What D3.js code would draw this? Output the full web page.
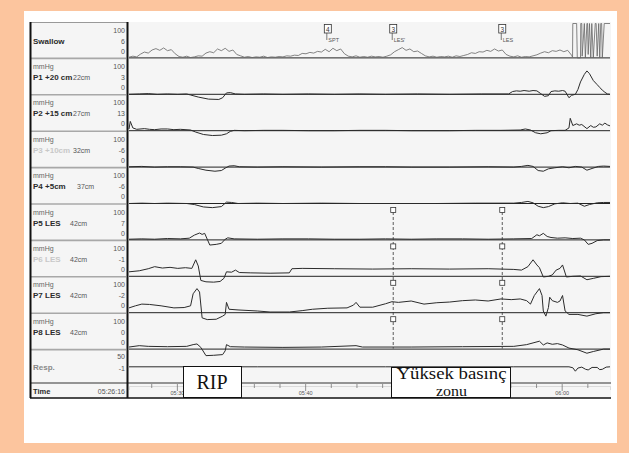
<!DOCTYPE html>
<html><head><meta charset="utf-8">
<script src="https://cdn.jsdelivr.net/npm/d3@7"></script>
<style>body{margin:0;background:#fcc59e;overflow:hidden}</style>
</head><body><svg id="c" width="629" height="453"></svg>
<script>
// ---------------- DATA ----------------
// time in minutes since 05:26:16, value in mmHg
const startTime = [5, 26, 16];
const rowNames   = ["Swallow", "P1 +20 cm", "P2 +15 cm", "P3 +10cm", "P4 +5cm", "P5 LES", "P6 LES", "P7 LES", "P8 LES"];
const rowDepths  = ["", "22cm", "27cm", "32cm", "37cm", "42cm", "42cm", "42cm", "42cm"];
const rowCurrent = ["6", "3", "13", "-6", "-6", "7", "-1", "-2", "0"];
const rowFaded   = [false, false, false, true, false, false, true, false, false];
const rowMax = "100", rowMin = "0";
const respLabels = ["50", "-1"];

const swallowTrace = [[0,2],[0.3,5],[0.6,3],[0.9,11],[1.2,17],[1.5,14],[1.8,23],[2.1,27],[2.4,22],[2.7,29],[3.0,21],[3.3,24],[3.6,12],[3.9,4],[4.2,2],[4.5,5],[4.8,1],[5.1,3],[5.4,6],[5.7,5],[6.0,14],[6.3,18],[6.6,15],[6.9,26],[7.2,21],[7.5,28],[7.8,19],[8.1,23],[8.4,10],[8.7,6],[9.0,2],[9.3,4],[9.6,1],[9.9,3],[10.2,2],[10.5,5],[10.8,1],[11.1,3],[11.4,2],[11.7,4],[12.0,3],[12.3,6],[12.6,5],[12.9,8],[13.2,7],[13.5,13],[13.8,12],[14.1,16],[14.4,14],[14.7,19],[15.0,17],[15.3,25],[15.6,18],[15.9,28],[16.2,21],[16.5,26],[16.8,12],[17.1,5],[17.4,3],[17.7,6],[18.0,2],[18.3,4],[18.6,2],[18.9,5],[19.2,3],[19.5,4],[19.8,2],[20.1,5],[20.4,9],[20.7,18],[21.0,24],[21.3,30],[21.6,22],[21.9,26],[22.2,18],[22.5,20],[22.8,13],[23.1,6],[23.4,3],[23.7,5],[24.0,2],[24.3,4],[24.6,3],[24.9,5],[25.2,2],[25.5,6],[25.8,4],[26.1,7],[26.4,10],[26.7,15],[27.0,13],[27.3,18],[27.6,17],[27.9,22],[28.2,19],[28.5,26],[28.8,20],[29.1,23],[29.4,10],[29.7,5],[30.0,3],[30.3,6],[30.6,2],[30.9,4],[31.2,3],[31.5,6],[31.8,9],[32.1,14],[32.4,18],[32.7,15],[33.0,21],[33.3,19],[33.6,23],[33.9,18],[34.2,22],[34.5,8],[34.58,2],[34.6,150],[34.9,150],[34.95,0],[35.2,0],[35.22,150],[35.3,150],[35.33,5],[35.5,150],[35.58,0],[35.7,150],[35.75,150],[35.8,10],[35.9,150],[36.0,0],[36.08,150],[36.2,0],[36.35,150],[36.42,150],[36.5,5],[36.62,150],[36.7,0],[36.78,150],[36.85,150],[36.9,0],[37.05,150],[37.5,150]];

const p1Trace = [[0,0],[0.8,1],[1.5,2],[2.2,0],[3,1],[3.8,0],[4.5,1],[4.8,-2],[5.4,-8],[6.2,-14],[7,-15],[7.3,-10],[7.6,4],[7.9,5],[8.3,1],[9,0],[10.5,1],[12,0],[14,1],[16,0],[18,1],[20,0],[22.5,1],[25,0],[27.5,1],[29.6,1],[29.9,8],[30.2,10],[30.5,9],[30.8,11],[31.2,9],[31.5,11],[31.8,10],[32.1,2],[32.4,-6],[32.7,-4],[32.9,8],[33.2,10],[33.5,9],[33.8,11],[34.0,9],[34.3,-10],[34.5,-3],[34.8,0],[35.0,14],[35.2,36],[35.5,58],[35.7,68],[35.9,60],[36.2,40],[36.5,28],[36.7,20],[36.9,12],[37.1,6],[37.3,1],[37.5,0]];

const p2Trace = [[0,5],[0.1,27],[0.3,8],[0.6,4],[1.2,6],[1.6,4],[2,3],[2.5,5],[3,5],[3.5,3],[4,4],[4.8,2],[5.2,-4],[5.8,-11],[6.5,-14],[7.2,-13],[7.6,-9],[7.9,-2],[8.2,1],[9,0],[10.5,1],[12,1],[14,0],[16,0],[18,1],[20,1],[22,0],[25,0],[27,1],[29,1],[30.5,2],[30.9,5],[31.3,2],[31.7,-6],[32.1,-9],[32.6,-6],[32.9,0],[33.5,1],[34.0,1],[34.3,8],[34.4,36],[34.6,15],[34.9,20],[35.1,16],[35.3,18],[35.7,6],[36.0,15],[36.2,10],[36.4,11],[36.7,20],[36.9,16],[37.1,22],[37.3,17],[37.5,14]];

const p3Trace = [[0,1],[1,2],[2,0],[3,1],[4,1],[5,0],[5.4,-4],[6,-9],[6.7,-12],[7.2,-10],[7.5,-3],[7.8,3],[8.2,4],[8.6,1],[10,0],[12,1],[15,0],[18,1],[20,1],[22,0],[25,0],[28,1],[30,0],[30.6,2],[31.1,5],[31.5,2],[31.9,-10],[32.3,-12],[32.7,-5],[33.2,-2],[33.8,1],[34.3,-2],[34.8,2],[35.3,0],[35.7,-9],[36.1,-4],[36.6,2],[37.0,3],[37.5,2]];

const p4Trace = [[0,0],[1,1],[2,0],[3,1],[4.5,0],[5.1,-3],[5.8,-10],[6.5,-12],[7.2,-9],[7.6,4],[8,3],[8.5,0],[10,1],[12,0],[15,1],[18,0],[21,0],[24,0],[27,1],[30,1],[30.6,3],[31.1,6],[31.5,2],[31.9,-8],[32.3,-12],[32.7,-9],[33.2,-1],[33.8,2],[34.4,0],[35.0,1],[35.5,-8],[35.9,-3],[36.5,2],[37,3],[37.5,3]];

const p5Trace = [[0,2],[1,3],[2,2],[3,4],[4,3],[4.7,5],[5.1,14],[5.5,20],[5.7,16],[5.9,19],[6.1,2],[6.3,-15],[6.8,-13],[7.2,-10],[7.5,2],[7.7,6],[8.2,3],[10,2],[12,3],[14,3],[16,2],[18,2],[20,3],[22,2],[24,3],[26,3],[28,2],[30,3],[31.4,4],[31.8,15],[32.0,12],[32.3,19],[32.6,10],[32.9,7],[33.4,5],[34,6],[34.6,4],[35.2,5],[35.5,0],[35.8,-13],[36.1,-10],[36.5,-2],[37,0],[37.5,0]];

const p6Trace = [[0,13],[0.8,16],[1.5,22],[2,28],[2.6,24],[3.2,26],[3.8,23],[4.4,25],[4.9,23],[5.2,48],[5.4,30],[5.6,-12],[6,-16],[6.6,-17],[7.1,-15],[7.4,-6],[7.6,13],[8,12],[8.3,18],[8.6,11],[9.5,10],[11,9],[12.5,10],[12.7,22],[13.5,23],[16,22],[19,21],[22,22],[25,21],[28,22],[30,20],[30.6,18],[31.1,28],[31.5,48],[31.8,33],[32,25],[32.3,-2],[32.7,0],[33.0,4],[33.3,18],[33.6,23],[33.8,33],[34.1,-2],[34.6,0],[35.2,1],[35.7,-10],[36.2,-6],[36.8,-1],[37.5,0]];

const p7Trace = [[0,14],[0.5,20],[1,25],[1.6,24],[2.5,20],[3.5,14],[4.3,15],[4.8,20],[5.0,55],[5.3,70],[5.5,60],[5.7,-15],[6.1,-20],[6.8,-19],[7.3,-10],[7.5,-5],[7.6,30],[7.8,10],[8.5,8],[10,5],[11,2],[12.5,2],[13.5,6],[14.3,10],[15.5,13],[17,14],[17.5,22],[17.7,30],[18,16],[19,16],[20,26],[20.5,32],[21,30],[22,34],[23,25],[24,29],[25,31],[26,35],[27,37],[28,34],[29,40],[29.8,38],[30.5,40],[31,35],[31.3,25],[31.6,50],[32.0,70],[32.2,50],[32.3,5],[32.5,-10],[32.7,15],[32.8,45],[33.0,35],[33.4,30],[33.6,34],[33.8,50],[34.0,5],[34.3,-5],[35,-5],[35.7,-10],[36.4,-3],[37,0],[37.5,0]];

const p8Trace = [[0,6],[0.8,10],[1.5,8],[3,7],[4.5,8],[5.0,13],[5.3,15],[5.6,5],[6.0,-19],[6.6,-18],[7.3,-16],[7.5,-5],[7.6,13],[7.9,7],[9,6],[12,5],[15,6],[17.7,10],[18.2,6],[22,6],[26,7],[30,8],[31,13],[31.5,18],[32,23],[32.3,12],[32.6,18],[33,14],[33.4,16],[33.8,12],[34.3,3],[35,-2],[35.7,-12],[36.2,-7],[37,0],[37.5,0]];

const respTrace = [[0,0],[10,0],[20,0],[30,0],[34.3,0],[34.6,-3],[34.8,-14],[35.0,-4],[35.3,-1],[35.6,-8],[35.8,-10],[36.1,-2],[36.5,-2],[36.7,-9],[36.9,-8],[37.2,-1],[37.5,0]];

const events = [{t: 15.5, code: "4", name: "SPT"}, {t: 20.6, code: "3", name: "LES'"}, {t: 29.1, code: "3", name: "LES"}];
const annotations = [{lines: ["RIP"]}, {lines: ["Yüksek basınç", "zonu"]}];

// ---------------- LAYOUT ----------------
const W = 629, H = 453;
const ROW_TOP = 22, ROW_H = 36.4, LABEL_L = 30, LABEL_R = 127, PLOT_L = 129, PLOT_R = 611;
const RESP_TOP = ROW_TOP + 9 * ROW_H, RESP_BOT = 383, TIME_BOT = 398;
const depthX = [0, 73, 73, 73, 77, 70, 70, 70, 70];
const boxes = [{x: 183, y: 366, w: 58, h: 31}, {x: 391, y: 367, w: 119, h: 30}];
const SANS = "'Liberation Sans', Arial, sans-serif";
const SERIF = "'Liberation Serif', 'Times New Roman', serif";

const traces = [swallowTrace, p1Trace, p2Trace, p3Trace, p4Trace, p5Trace, p6Trace, p7Trace, p8Trace];

const svg = d3.select("#c");
const t0 = new Date(2021, 0, 1, startTime[0], startTime[1], startTime[2]);
const toDate = m => new Date(t0.getTime() + m * 60000);
const x = d3.scaleTime().domain([t0, toDate(37.5)]).range([PLOT_L, 610]);

svg.append("rect").attr("width", W).attr("height", H).attr("fill", "#fcc59e");
svg.append("rect").attr("x", 24).attr("y", 11).attr("width", 593).attr("height", 432).attr("fill", "#ffffff");
svg.append("rect").attr("x", LABEL_L).attr("y", ROW_TOP).attr("width", PLOT_R - LABEL_L).attr("height", TIME_BOT - ROW_TOP).attr("fill", "#f5f5f5");

const plot = svg.append("g");
const labels = svg.append("g").attr("font-family", SANS);

svg.append("line").attr("x1", LABEL_L).attr("x2", LABEL_R).attr("y1", ROW_TOP + 0.5).attr("y2", ROW_TOP + 0.5).attr("stroke", "#999").attr("stroke-width", 1);

traces.forEach((data, i) => {
  const top = ROW_TOP + i * ROW_H, bot = top + ROW_H;
  const y = d3.scaleLinear().domain([0, 100]).range([bot - 0.5, top + 1.5]);
  if (i === 0) y.clamp(true);
  labels.append("line").attr("x1", LABEL_L + 1).attr("x2", LABEL_R - 1).attr("y1", bot).attr("y2", bot)
    .attr("stroke", "#a8a8a8").attr("stroke-width", 1.6);
  plot.append("line").attr("x1", PLOT_L).attr("x2", 610).attr("y1", y(0)).attr("y2", y(0))
    .attr("stroke", "#222").attr("stroke-width", 1);
  const line = d3.line().x(d => x(toDate(d[0]))).y(d => y(d[1]));
  plot.append("path").attr("d", line(data)).attr("fill", "none")
    .attr("stroke", i === 0 ? "#666" : "#2b2b2b").attr("stroke-width", i === 0 ? 0.8 : 1)
    .attr("stroke-linejoin", "round");
  if (i > 0) labels.append("text").attr("x", 33).attr("y", top + 10.5).attr("font-size", 7).attr("fill", "#666").text("mmHg");
  labels.append("text").attr("x", 33).attr("y", top + 21.5).attr("font-size", 8).attr("font-weight", "bold")
    .attr("fill", rowFaded[i] ? "#c8c8c8" : "#2a2a2a").text(rowNames[i]);
  if (rowDepths[i]) labels.append("text").attr("x", depthX[i]).attr("y", top + 21.5).attr("font-size", 7).attr("fill", "#555").text(rowDepths[i]);
  const nums = [[rowMax, top + 10.5], [rowCurrent[i], top + 21.5], [rowMin, top + 31.5]];
  nums.forEach(([s, yy]) => labels.append("text").attr("x", 125).attr("y", yy).attr("text-anchor", "end")
    .attr("font-size", 7).attr("fill", "#555").text(s));
});

// Resp row
const yResp = d3.scaleLinear().domain([-50, 50]).range([RESP_BOT - 0.5, RESP_TOP + 1.5]);
plot.append("path").attr("d", d3.line().x(d => x(toDate(d[0]))).y(d => yResp(d[1]))(respTrace))
  .attr("fill", "none").attr("stroke", "#2b2b2b").attr("stroke-width", 1);
labels.append("text").attr("x", 125).attr("y", RESP_TOP + 9.5).attr("text-anchor", "end").attr("font-size", 7).attr("fill", "#555").text(respLabels[0]);
labels.append("text").attr("x", 33).attr("y", RESP_TOP + 20.5).attr("font-size", 8).attr("font-weight", "bold").attr("fill", "#888").text("Resp.");
labels.append("text").attr("x", 125).attr("y", RESP_TOP + 21).attr("text-anchor", "end").attr("font-size", 7).attr("fill", "#555").text(respLabels[1]);

// Time row
labels.append("text").attr("x", 33).attr("y", 393.5).attr("font-size", 7.5).attr("font-weight", "bold").attr("fill", "#2a2a2a").text("Time");
labels.append("text").attr("x", 125).attr("y", 393.5).attr("text-anchor", "end").attr("font-size", 7).attr("fill", "#555").text(d3.timeFormat("%H:%M:%S")(t0));

const fmt = d3.timeFormat("%H:%M");
const axis = d3.axisBottom(x).ticks(d3.timeMinute.every(2)).tickSizeOuter(0).tickSize(4)
  .tickFormat(d => d.getMinutes() % 10 === 0 ? fmt(d) : "");
const ax = svg.append("g").attr("transform", "translate(0,386)").call(axis);
ax.select(".domain").attr("stroke", "#c8c8c8").attr("stroke-width", 0.6);
ax.selectAll(".tick line").attr("stroke", "#666").attr("stroke-width", 0.7)
  .attr("y1", -2).attr("y2", d => d.getMinutes() % 10 === 0 ? 5 : 2);
ax.selectAll(".tick text").attr("font-family", SANS).attr("font-size", 5.5).attr("fill", "#555").attr("y", 9).attr("dy", "0");
// labels entirely covered by an annotation box are not visible
ax.selectAll(".tick text").filter(d => boxes.some(b => x(d) - 8 > b.x && x(d) + 8 < b.x + b.w)).remove();

// Swallow event markers
events.forEach(e => {
  const cx = x(toDate(e.t));
  plot.append("rect").attr("x", cx - 3.5).attr("y", 24.5).attr("width", 7).attr("height", 8.5)
    .attr("fill", "#fff").attr("stroke", "#333").attr("stroke-width", 0.8);
  plot.append("text").attr("x", cx).attr("y", 31.6).attr("text-anchor", "middle").attr("font-family", SANS)
    .attr("font-size", 6.5).attr("fill", "#333").text(e.code);
  plot.append("line").attr("x1", cx - 1).attr("x2", cx - 1).attr("y1", 33).attr("y2", 40).attr("stroke", "#444").attr("stroke-width", 0.7);
  plot.append("text").attr("x", cx + 0.5).attr("y", 41.5).attr("font-family", SANS).attr("font-size", 5.5).attr("fill", "#555").text(e.name);
});

// LES dashed lines with markers
events.filter(e => e.name.startsWith("LES")).forEach(e => {
  const cx = x(toDate(e.t));
  const firstTop = ROW_TOP + 5 * ROW_H;
  plot.append("line").attr("x1", cx).attr("x2", cx).attr("y1", firstTop + 8).attr("y2", ROW_TOP + 9 * ROW_H - 1)
    .attr("stroke", "#333").attr("stroke-width", 0.8).attr("stroke-dasharray", "3,2");
  for (let r = 5; r <= 8; r++) {
    const top = ROW_TOP + r * ROW_H;
    plot.append("rect").attr("x", cx - 2.5).attr("y", top + 3.5).attr("width", 5).attr("height", 5)
      .attr("fill", "#fff").attr("stroke", "#333").attr("stroke-width", 0.8);
  }
});

// frame lines
svg.append("line").attr("x1", LABEL_L).attr("x2", PLOT_R).attr("y1", RESP_BOT).attr("y2", RESP_BOT).attr("stroke", "#333").attr("stroke-width", 1.2);
svg.append("line").attr("x1", LABEL_L).attr("x2", PLOT_R).attr("y1", TIME_BOT).attr("y2", TIME_BOT).attr("stroke", "#111").attr("stroke-width", 1.5);
svg.append("line").attr("x1", LABEL_L + 0.5).attr("x2", LABEL_L + 0.5).attr("y1", ROW_TOP).attr("y2", TIME_BOT).attr("stroke", "#111").attr("stroke-width", 2);
svg.append("line").attr("x1", LABEL_R + 0.5).attr("x2", LABEL_R + 0.5).attr("y1", ROW_TOP).attr("y2", TIME_BOT).attr("stroke", "#111").attr("stroke-width", 2);

// annotation boxes
annotations.forEach((a, i) => {
  const b = boxes[i];
  svg.append("rect").attr("x", b.x + 0.5).attr("y", b.y + 0.5).attr("width", b.w).attr("height", b.h)
    .attr("fill", "#fff").attr("stroke", "#111").attr("stroke-width", 1);
  if (a.lines.length === 1) {
    svg.append("text").attr("x", b.x + b.w / 2).attr("y", b.y + 22.5).attr("text-anchor", "middle")
      .attr("font-family", SERIF).attr("font-size", 20).attr("fill", "#111").text(a.lines[0]);
  } else {
    const sizes = [16, 15];
    const bases = [12, 29];
    const widths = [110, 31];
    a.lines.forEach((s, k) => svg.append("text").attr("x", b.x + b.w / 2 + 1).attr("y", b.y + bases[k])
      .attr("text-anchor", "middle").attr("font-family", SERIF).attr("fill", "#111")
      .attr("font-size", sizes[k]).attr("textLength", widths[k]).attr("lengthAdjust", "spacingAndGlyphs").text(s));
  }
});
</script>
</body></html>
